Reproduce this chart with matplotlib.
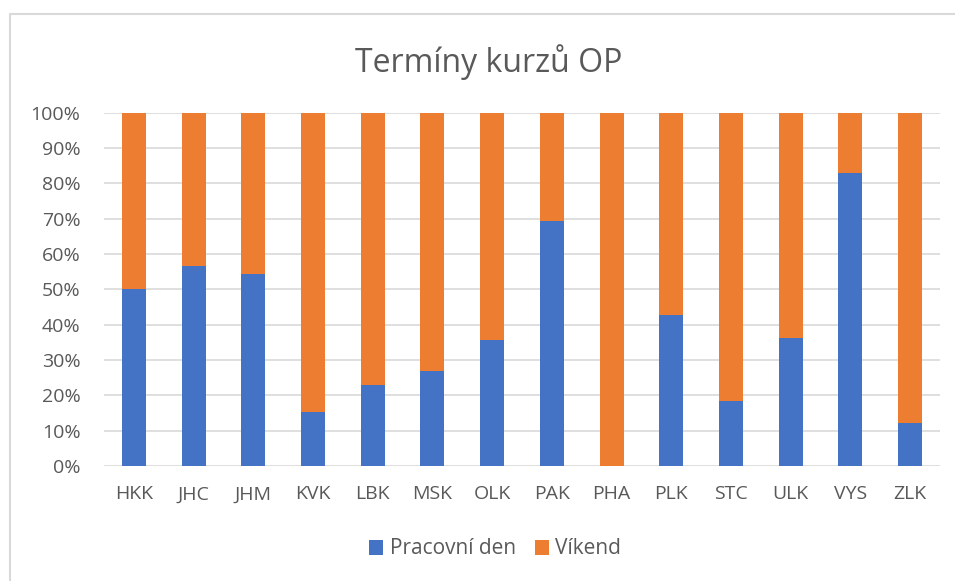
import matplotlib

matplotlib.use('Agg')

import matplotlib.pyplot as plt
from matplotlib.lines import Line2D
from matplotlib.ticker import PercentFormatter

kraje = ['HKK', 'JHC', 'JHM', 'KVK', 'LBK', 'MSK', 'OLK',
         'PAK', 'PHA', 'PLK', 'STC', 'ULK', 'VYS', 'ZLK']
pracovni_den = [50.0, 56.6, 54.4, 15.3, 22.9, 26.9, 35.6,
                69.3, 0.0, 42.7, 18.5, 36.3, 82.9, 12.1]
vikend = [100 - v for v in pracovni_den]

modra = '#4472C4'
oranzova = '#ED7D31'
seda_text = '#595959'

plt.rcParams['font.family'] = ['Open Sans', 'DejaVu Sans']

W, H = 955, 581
fig = plt.figure(figsize=(W / 100, H / 100), dpi=100)
ax = fig.add_axes([104 / W, 1 - 466 / H, (940 - 104) / W, (466 - 112.7) / H])

x = range(len(kraje))
ax.bar(x, pracovni_den, width=0.4, color=modra, label='Pracovní den', zorder=3)
ax.bar(x, vikend, width=0.4, bottom=pracovni_den, color=oranzova, label='Víkend', zorder=3)

ax.set_xlim(-0.5, len(kraje) - 0.5)
ax.set_ylim(0, 100)
ax.set_yticks(range(0, 101, 10))
ax.yaxis.set_major_formatter(PercentFormatter(decimals=0))
ax.set_xticks(list(x))
ax.set_xticklabels(kraje)
ax.tick_params(axis='both', length=0, labelsize=14, colors=seda_text)
ax.tick_params(axis='x', pad=14)
ax.tick_params(axis='y', pad=17)
ax.grid(axis='y', color='#D9D9D9', linewidth=1.2, zorder=0)
for s in ax.spines.values():
    s.set_visible(False)

fig.text(489 / W, 1 - 62 / H, 'Termíny kurzů OP', ha='center', va='center',
         fontsize=23, color=seda_text)

fig.legend(loc='center', bbox_to_anchor=(495 / W, 1 - 549 / H), ncol=2, frameon=False,
           fontsize=15, labelcolor=seda_text, handlelength=0.7, handleheight=0.7,
           handletextpad=0.3, columnspacing=0.9)

# rámeček grafu (levá a horní hrana)
fig.add_artist(Line2D([10 / W, 10 / W, 1], [0, 1 - 14 / H, 1 - 14 / H],
                      transform=fig.transFigure, color='#D9D9D9', linewidth=1.5))

fig.savefig('out.png', dpi=100)
